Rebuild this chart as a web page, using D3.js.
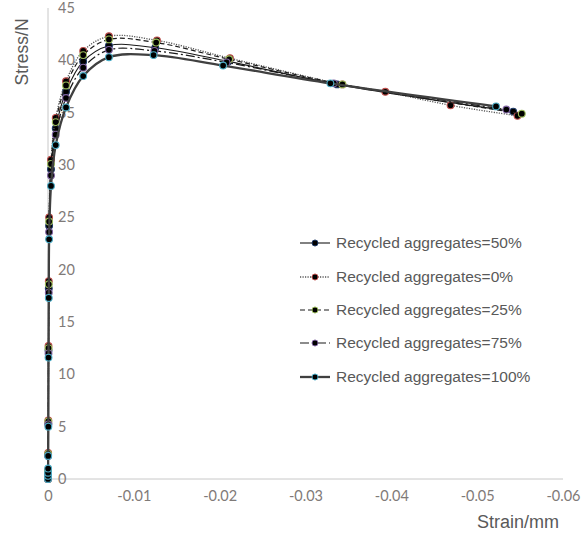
<!DOCTYPE html>
<html>
<head>
<meta charset="utf-8">
<script src="https://cdn.jsdelivr.net/npm/d3@7"></script>
<style>
  html, body { margin: 0; padding: 0; background: #fff; }
  svg { display: block; }
</style>
</head>
<body>
<svg id="chart" width="585" height="535"></svg>
<script>
// ---------- data ----------
const seriesNames = [
  "Recycled aggregates=50%",
  "Recycled aggregates=0%",
  "Recycled aggregates=25%",
  "Recycled aggregates=75%",
  "Recycled aggregates=100%"
];
const markerColors = ["#1f3a68", "#c0504d", "#9bbb59", "#8064a2", "#4bacc6"];

const strain50  = [0,-0.00001,-0.00002,-0.00004,-0.00006,-0.00009,-0.00013,-0.00035,-0.0009,-0.0021,-0.0041,-0.0071,-0.0125,-0.0210,-0.0337,-0.0542];
const stress50  = [0,0.5,2.3,5.3,12.3,18.2,24.2,29.6,33.5,37.0,39.9,41.4,41.2,39.9,37.7,35.1];

const strain0   = [0,-0.00001,-0.00002,-0.00004,-0.00006,-0.00009,-0.00013,-0.00035,-0.0009,-0.0021,-0.0041,-0.0071,-0.0127,-0.0212,-0.0343,-0.0393,-0.0469,-0.0547];
const stress0   = [0,0.8,2.5,5.6,12.7,18.9,25.0,30.5,34.5,38.0,40.9,42.3,41.9,40.2,37.7,37.0,35.7,34.7];

const strain25  = [0,-0.00001,-0.00002,-0.00004,-0.00006,-0.00009,-0.00013,-0.00035,-0.0009,-0.0021,-0.0041,-0.0071,-0.0126,-0.0211,-0.0343,-0.0552];
const stress25  = [0,0.7,2.4,5.5,12.5,18.6,24.6,30.1,34.1,37.6,40.5,42.0,41.7,40.1,37.7,34.9];

const strain75  = [0,-0.00001,-0.00002,-0.00004,-0.00006,-0.00009,-0.00013,-0.00035,-0.0009,-0.0021,-0.0041,-0.0071,-0.0124,-0.0208,-0.0333,-0.0534];
const stress75  = [0,0.4,2.2,5.2,12.0,17.8,23.6,29.0,32.9,36.4,39.3,41.0,40.9,39.8,37.8,35.3];

const strain100 = [0,-0.000005,-0.00001,-0.000015,-0.00002,-0.00004,-0.00006,-0.00009,-0.00013,-0.00035,-0.0009,-0.0021,-0.0041,-0.0071,-0.0123,-0.0204,-0.0329,-0.0522];
const stress100 = [0,0.3,0.6,1.0,2.2,5.0,11.6,17.3,22.9,28.0,31.9,35.5,38.5,40.3,40.5,39.5,37.8,35.6];

const xTicks = [0,-0.01,-0.02,-0.03,-0.04,-0.05,-0.06];
const xTickLabels = ["0","-0.01","-0.02","-0.03","-0.04","-0.05","-0.06"];
const yTicks = [0,5,10,15,20,25,30,35,40,45];

const seriesData = [
  [strain50, stress50],
  [strain0, stress0],
  [strain25, stress25],
  [strain75, stress75],
  [strain100, stress100]
];

// ---------- styles ----------
const lineStyles = [
  {stroke:"#1a1a1a", width:1.1, dash:null},
  {stroke:"#555555", width:1.3, dash:"1.2,1.3"},
  {stroke:"#1a1a1a", width:1.2, dash:"5,3"},
  {stroke:"#1a1a1a", width:1.2, dash:"9,3,2,3"},
  {stroke:"#404040", width:2.3, dash:null}
];

const svg = d3.select("#chart");
const x = d3.scaleLinear().domain([0, -0.06]).range([48, 563]);
const y = d3.scaleLinear().domain([0, 45]).range([479, 8]);

// axes lines
svg.append("line").attr("x1", x(0)).attr("x2", x(-0.06)).attr("y1", y(0)).attr("y2", y(0))
  .attr("stroke", "#c8c8c8").attr("stroke-width", 1);
svg.append("line").attr("x1", x(0)).attr("x2", x(0)).attr("y1", y(0)).attr("y2", y(45))
  .attr("stroke", "#c8c8c8").attr("stroke-width", 1);

// y tick labels (right of axis)
const yAxis = d3.axisRight(y).tickValues(yTicks).tickSize(0).tickPadding(10);
const gy = svg.append("g").attr("transform", `translate(${x(0)},0)`).call(yAxis);
gy.select(".domain").remove();
gy.selectAll("text").attr("font-family", "Lato, 'Open Sans', sans-serif")
  .attr("font-size", 14.5).attr("fill", "#7f7a78");

// x tick labels
const xAxis = d3.axisBottom(x).tickValues(xTicks).tickSize(0).tickPadding(12)
  .tickFormat((d, i) => xTickLabels[i]);
const gx = svg.append("g").attr("transform", `translate(0,${y(0)})`).call(xAxis);
gx.select(".domain").remove();
gx.selectAll("text").attr("font-family", "Lato, 'Open Sans', sans-serif")
  .attr("font-size", 14.5).attr("fill", "#7f7a78");

// titles
svg.append("text").attr("transform", "translate(28,52) rotate(-90)")
  .attr("text-anchor", "middle").attr("font-family", "'Liberation Sans', Arial, sans-serif")
  .attr("font-size", 17.5).attr("fill", "#595959").text("Stress/N");
svg.append("text").attr("x", 518).attr("y", 528)
  .attr("text-anchor", "middle").attr("font-family", "'Liberation Sans', Arial, sans-serif")
  .attr("font-size", 18).attr("fill", "#595959").text("Strain/mm");

// series
const line = d3.line().x(d => x(d[0])).y(d => y(d[1])).curve(d3.curveCatmullRom.alpha(0.5));
seriesData.forEach((sd, i) => {
  const pts = sd[0].map((s, k) => [s, sd[1][k]]);
  const st = lineStyles[i];
  const g = svg.append("g");
  g.append("path").datum(pts).attr("d", line).attr("fill", "none")
    .attr("stroke", st.stroke).attr("stroke-width", st.width)
    .attr("stroke-dasharray", st.dash);
  g.selectAll("circle").data(pts).join("circle")
    .attr("cx", d => x(d[0])).attr("cy", d => y(d[1])).attr("r", 3.4)
    .attr("fill", "#000").attr("stroke", markerColors[i]).attr("stroke-width", 1.1);
});

// legend
const legY = [243, 277, 310, 343, 377];
seriesNames.forEach((name, i) => {
  const st = lineStyles[i];
  const g = svg.append("g");
  g.append("line").attr("x1", 300).attr("x2", 330).attr("y1", legY[i]).attr("y2", legY[i])
    .attr("stroke", st.stroke).attr("stroke-width", st.width).attr("stroke-dasharray", st.dash);
  g.append("circle").attr("cx", 315).attr("cy", legY[i]).attr("r", 3)
    .attr("fill", "#000").attr("stroke", markerColors[i]).attr("stroke-width", 1);
  g.append("text").attr("x", 336).attr("y", legY[i]).attr("dy", "0.35em")
    .attr("font-family", "'Liberation Sans', Arial, sans-serif").attr("font-size", 15.5)
    .attr("fill", "#595959").text(name);
});
</script>
</body>
</html>
